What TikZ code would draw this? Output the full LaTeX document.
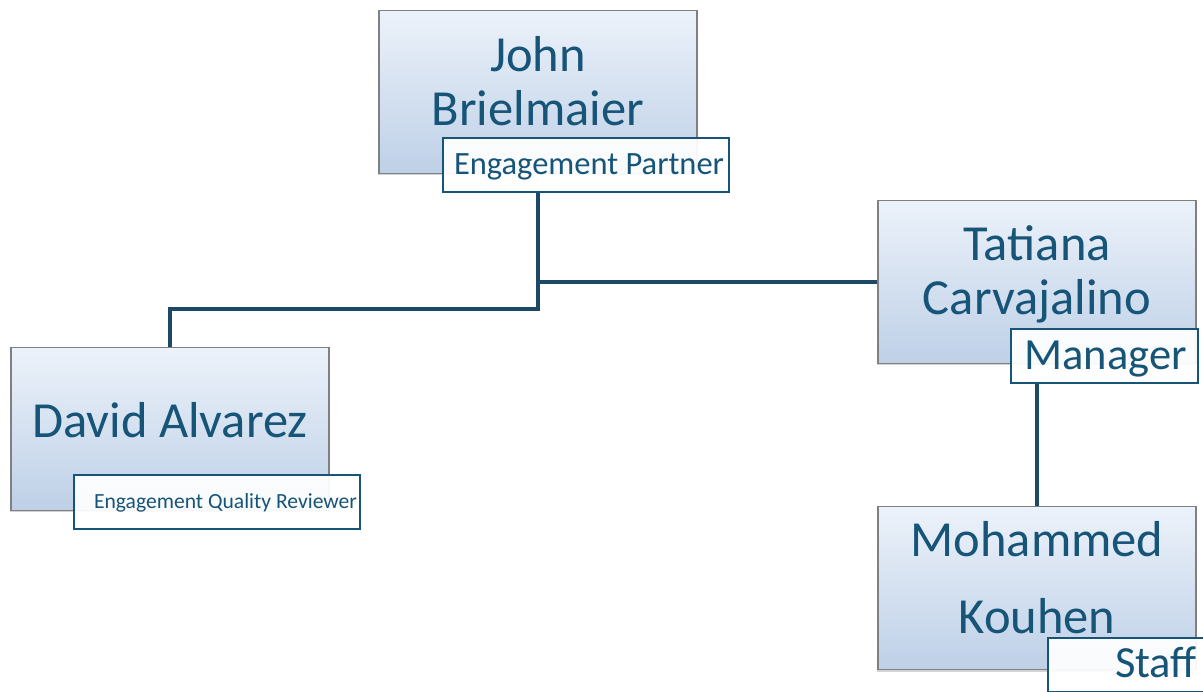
\documentclass[tikz,border=0pt]{standalone}
\usepackage{fontspec}
\setmainfont{Carlito}
\usepackage{tikz}
\usetikzlibrary{
  % soft shadows under the boxes
  shadows,%
  calc,%
  positioning
}
\definecolor{nameblue}{RGB}{22,84,120}
\definecolor{linkblue}{RGB}{28,74,102}
\definecolor{boxtop}{RGB}{236,242,250}
\definecolor{boxbottom}{RGB}{190,208,231}
\definecolor{boxedge}{RGB}{128,128,128}
\tikzset{
  namebox/.style={rectangle, draw=boxedge, line width=1.2pt,
    top color=boxtop, bottom color=boxbottom,
    minimum width=318pt, minimum height=163pt, inner sep=0pt,
    drop shadow={shadow xshift=-1pt, shadow yshift=-2pt, opacity=.35}},
  nametext/.style={text=nameblue, align=center, inner sep=0pt,
    font=\fontsize{50.5}{54}\selectfont},
  rolebox/.style={rectangle, draw=nameblue, line width=1.5pt, fill=white,
    fill opacity=.93, text opacity=1, text=nameblue, inner sep=0pt,
    minimum height=54pt, text depth=0pt},
  link/.style={draw=linkblue, line width=4.5pt}
}
\begin{document}
\begin{tikzpicture}[x=1pt, y=-1pt]
  \useasboundingbox (0,0) rectangle (1203,692);
  % the four people
  \node[namebox] (john) at (538,92) {};
  \node[namebox] (tatiana) at (1037,282) {};
  \node[namebox] (david) at (170,429) {};
  \node[namebox] (mohammed) at (1037,588) {};
  \node[nametext] (johnname) at (538,81) {John\\Brielmaier};
  \node[nametext] (tatiananame) at (1037,274) {Tatiana\\Carvajalino};
  \node[nametext] (davidname) at (170,420) {David Alvarez};
  \node[nametext, font=\fontsize{50.5}{77}\selectfont] (mohammedname)
    at (1037,578) {Mohammed\\Kouhen};
  % their roles
  \node[rolebox, minimum width=286pt, text height=20pt,
    font=\fontsize{32.5}{36}\selectfont]
    (johnrole) at (586,165) {\hspace{6pt}Engagement Partner};
  \node[rolebox, minimum width=187pt, text height=28pt,
    font=\fontsize{44.5}{50}\selectfont]
    (tatianarole) at (1104.5,356) {\hspace{2pt}Manager};
  \node[rolebox, minimum width=286pt, text height=12pt,
    font=\fontsize{21.6}{25}\selectfont]
    (davidrole) at (217,502) {\hspace{17pt}Engagement Quality Reviewer};
  \node[rolebox, minimum width=202pt, text height=24pt,
    font=\fontsize{44.5}{50}\selectfont]
    (mohammedrole) at (1149,665) {\hspace{14pt}Staff};
  % reporting lines
  \coordinate (tee) at (john.south |- tatiana.west);
  \coordinate (fork) at ($(john.south)+(0,135)$);
  \draw[link] (john.south |- johnrole.south) -- (fork) -| (david.north);
  \draw[link] (tee) -- (tatiana.west);
  \draw[link] (tatiana.south |- tatianarole.south) -- (mohammed.north);
\end{tikzpicture}
\end{document}
